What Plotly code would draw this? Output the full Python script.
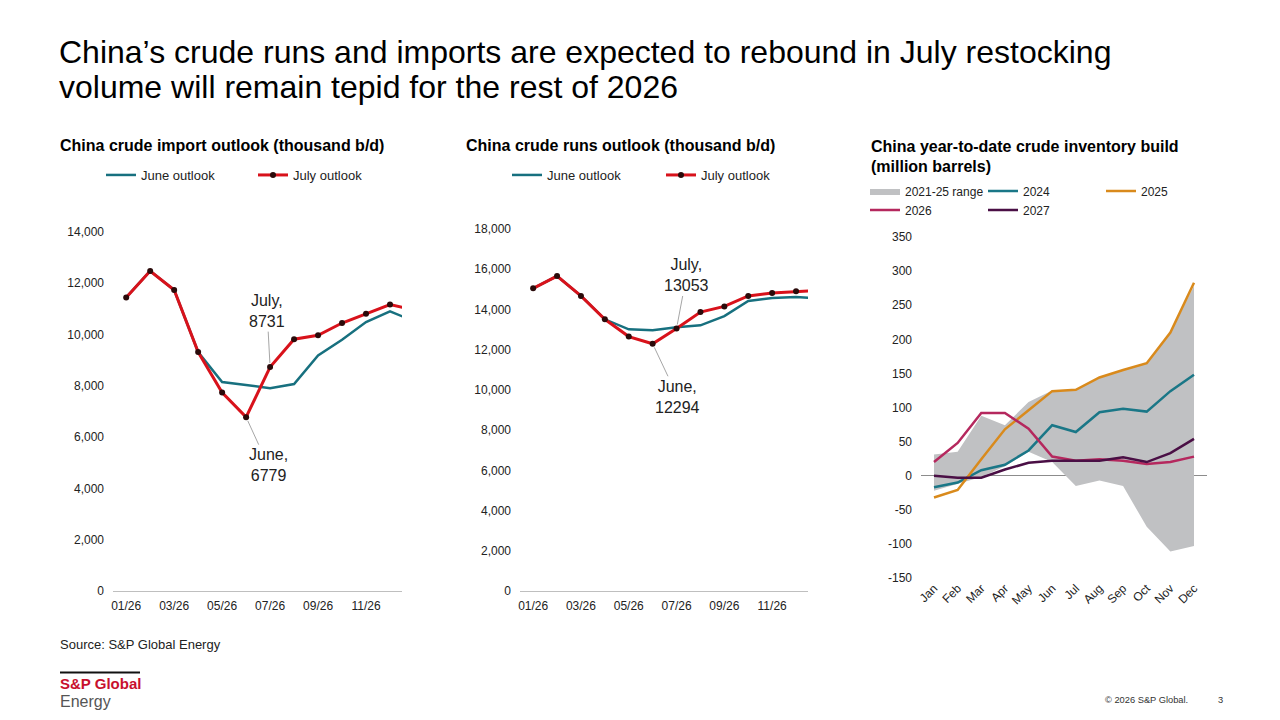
import plotly.graph_objects as go

# data
months = ["01/26", "02/26", "03/26", "04/26", "05/26", "06/26", "07/26",
          "08/26", "09/26", "10/26", "11/26", "12/26", "01/27"]

imports_june = [11450, 12480, 11740, 9320, 8150, 8030, 7910, 8070, 9190, 9800, 10490, 10910, 10520]
imports_july = [11450, 12480, 11740, 9320, 7740, 6779, 8731, 9820, 9970, 10450, 10810, 11170, 10960]

runs_june = [15050, 15660, 14670, 13510, 13010, 12960, 13110, 13210, 13670, 14420, 14570, 14620, 14550]
runs_july = [15050, 15660, 14670, 13510, 12650, 12294, 13053, 13870, 14150, 14670, 14820, 14900, 14950]

cal_months = ["Jan", "Feb", "Mar", "Apr", "May", "Jun", "Jul", "Aug", "Sep", "Oct", "Nov", "Dec"]
range_low = [-22, -12, -2, 14, 35, 20, -15, -7, -15, -75, -111, -103]
range_high = [31, 35, 88, 74, 108, 125, 126, 144, 155, 165, 210, 278]
inv_2024 = [-17, -10, 8, 16, 37, 74, 64, 93, 98, 94, 124, 148]
inv_2025 = [-32, -21, 24, 68, 96, 124, 126, 144, 155, 165, 210, 283]
inv_2026 = [20, 48, 92, 92, 69, 28, 22, 24, 22, 17, 20, 28]
inv_2027 = [0, -3, -3, 9, 19, 22, 22, 22, 27, 20, 33, 54]

inv_ticks = [-150, -100, -50, 0, 50, 100, 150, 200, 250, 300, 350]
inv_tick_text = ["-150", "-100", "-50", "0", "50", "100", "150", "200", "250", "300", "350"]

FONT = "Liberation Sans, Arial, sans-serif"
RED = "#d8121b"
TEAL = "#17707f"
W, H = 1280, 720


def px_x(p):
    return p / W


def px_y(p):
    return 1 - p / H


fig = go.Figure()

# left: imports
fig.add_trace(go.Scatter(x=months, y=imports_june, name="June outlook", mode="lines",
                         line=dict(color=TEAL, width=2.5), xaxis="x", yaxis="y", legend="legend"))
fig.add_trace(go.Scatter(x=months, y=imports_july, name="July outlook", mode="lines+markers",
                         line=dict(color=RED, width=3), marker=dict(color="#2a0a0a", size=6),
                         xaxis="x", yaxis="y", legend="legend"))

# middle: runs
fig.add_trace(go.Scatter(x=months, y=runs_june, name="June outlook", mode="lines",
                         line=dict(color=TEAL, width=2.5), xaxis="x2", yaxis="y2", legend="legend2"))
fig.add_trace(go.Scatter(x=months, y=runs_july, name="July outlook", mode="lines+markers",
                         line=dict(color=RED, width=3), marker=dict(color="#2a0a0a", size=6),
                         xaxis="x2", yaxis="y2", legend="legend2"))

# right: inventory build
fig.add_trace(go.Scatter(x=cal_months, y=range_low, mode="lines", line=dict(width=0),
                         showlegend=False, hoverinfo="skip", xaxis="x3", yaxis="y3"))
fig.add_trace(go.Scatter(x=cal_months, y=range_high, mode="lines", line=dict(width=0),
                         fill="tonexty", fillcolor="#c0c1c3", name="2021-25 range",
                         xaxis="x3", yaxis="y3", legend="legend3"))
for name, vals, col, lg in [("2024", inv_2024, "#1a7787", "legend3"),
                            ("2025", inv_2025, "#d98a1c", "legend3"),
                            ("2026", inv_2026, "#b5285e", "legend4"),
                            ("2027", inv_2027, "#4a0f45", "legend4")]:
    fig.add_trace(go.Scatter(x=cal_months, y=vals, name=name, mode="lines",
                             line=dict(color=col, width=2.5), xaxis="x3", yaxis="y3", legend=lg))

tick_font = dict(family=FONT, size=12, color="#222")

xcommon = dict(type="category", showgrid=False, zeroline=False, showline=True,
               linecolor="#bfbfbf", linewidth=1, ticks="", tickfont=tick_font,
               tickvals=months[0:12:2], range=[-0.55, 11.5], ticklabelstandoff=4)
ycommon = dict(showgrid=False, zeroline=False, showline=False, ticks="",
               tickformat=",", tickfont=tick_font, ticklabelstandoff=8)

legend_common = dict(orientation="h", bgcolor="rgba(0,0,0,0)",
                     itemwidth=30, entrywidthmode="pixels", xanchor="left", yanchor="middle",
                     traceorder="normal", tracegroupgap=0, itemclick=False)
legend_font = dict(family=FONT, size=13, color="#222")
small_legend_font = dict(family=FONT, size=12, color="#222")

fig.update_layout(
    width=W, height=H, margin=dict(l=0, r=0, t=0, b=0, autoexpand=False),
    paper_bgcolor="white", plot_bgcolor="white",
    font=dict(family=FONT, color="#222"),
    xaxis=dict(domain=[px_x(113), px_x(402)], anchor="y", **xcommon),
    yaxis=dict(domain=[px_y(591), px_y(232)], anchor="x", range=[0, 14000], dtick=2000, **ycommon),
    xaxis2=dict(domain=[px_x(520), px_x(808)], anchor="y2", **xcommon),
    yaxis2=dict(domain=[px_y(591), px_y(229)], anchor="x2", range=[0, 18000], dtick=2000, **ycommon),
    xaxis3=dict(domain=[px_x(921), px_x(1207)], anchor="y3", type="category", showgrid=False,
                showline=False, zeroline=False, ticks="", tickangle=-45, tickfont=tick_font,
                range=[-0.55, 11.55]),
    yaxis3=dict(domain=[px_y(578), px_y(237)], anchor="x3", range=[-150, 350], showgrid=False,
                showline=False, zeroline=True, zerolinecolor="#8c8c8c", zerolinewidth=1, ticks="",
                tickvals=inv_ticks, ticktext=inv_tick_text, tickfont=tick_font, ticklabelstandoff=8),
    legend=dict(x=px_x(101), y=px_y(175), entrywidth=107, font=legend_font, **legend_common),
    legend2=dict(x=px_x(507), y=px_y(175), entrywidth=109, font=legend_font, **legend_common),
    legend3=dict(x=px_x(865), y=px_y(191), entrywidth=73, font=small_legend_font, **legend_common),
    legend4=dict(x=px_x(865), y=px_y(210), entrywidth=73, font=small_legend_font, **legend_common),
    showlegend=True,
)

annotations = [
    # headline, two lines set separately to keep the tight line spacing
    dict(text="China’s crude runs and imports are expected to rebound in July restocking",
         x=px_x(57), y=px_y(52), xanchor="left", yanchor="middle",
         font=dict(family=FONT, size=32, color="#000")),
    dict(text="volume will remain tepid for the rest of 2026",
         x=px_x(57), y=px_y(87), xanchor="left", yanchor="middle",
         font=dict(family=FONT, size=32, color="#000")),
    # panel titles
    dict(text="<b>China crude import outlook (thousand b/d)</b>", x=px_x(58), y=px_y(146),
         xanchor="left", yanchor="middle", font=dict(family=FONT, size=16, color="#000")),
    dict(text="<b>China crude runs outlook (thousand b/d)</b>", x=px_x(464), y=px_y(146),
         xanchor="left", yanchor="middle", font=dict(family=FONT, size=16, color="#000")),
    dict(text="<b>China year-to-date crude inventory build</b>", x=px_x(869),
         y=px_y(147), xanchor="left", yanchor="middle", font=dict(family=FONT, size=16, color="#000")),
    dict(text="<b>(million barrels)</b>", x=px_x(869),
         y=px_y(166), xanchor="left", yanchor="middle", font=dict(family=FONT, size=16, color="#000")),
    # footer
    dict(text="Source: S&P Global Energy", x=px_x(58), y=px_y(644), xanchor="left", yanchor="middle",
         font=dict(family=FONT, size=13, color="#222")),
    dict(text="<b>S&P Global</b>", x=px_x(58), y=px_y(683), xanchor="left", yanchor="middle",
         font=dict(family=FONT, size=15, color="#c8102e")),
    dict(text="Energy", x=px_x(58), y=px_y(701), xanchor="left", yanchor="middle",
         font=dict(family=FONT, size=16, color="#555")),
    dict(text="© 2026 S&P Global.", x=px_x(1103), y=px_y(700), xanchor="left", yanchor="middle",
         font=dict(family=FONT, size=9.3, color="#333")),
    dict(text="3", x=px_x(1216), y=px_y(700), xanchor="left", yanchor="middle",
         font=dict(family=FONT, size=9.3, color="#333")),
]
for a in annotations:
    a.update(xref="paper", yref="paper", showarrow=False)

# callouts on the July outlook lines
callout = dict(showarrow=True, arrowhead=0, arrowwidth=1, arrowcolor="#a6a6a6", standoff=4,
               font=dict(family=FONT, size=16, color="#222"))
annotations += [
    dict(x=months[6], y=imports_july[6], xref="x", yref="y", ax=-3, ay=-56,
         text=f"July,<br>{imports_july[6]}", **callout),
    dict(x=months[5], y=imports_july[5], xref="x", yref="y", ax=22, ay=48,
         text=f"June,<br>{imports_july[5]}", **callout),
    dict(x=months[6], y=runs_july[6], xref="x2", yref="y2", ax=10, ay=-53,
         text=f"July,<br>{runs_july[6]}", **callout),
    dict(x=months[5], y=runs_july[5], xref="x2", yref="y2", ax=25, ay=53,
         text=f"June,<br>{runs_july[5]}", **callout),
]
fig.update_layout(annotations=annotations)

# thin rule above the logo
fig.add_shape(type="line", xref="paper", yref="paper", x0=px_x(60), x1=px_x(140),
              y0=px_y(672.5), y1=px_y(672.5), line=dict(color="#111", width=2))

fig.write_html("out.html", config={"displayModeBar": False},
               post_script="document.body.style.margin='0';document.body.style.overflow='hidden';")
